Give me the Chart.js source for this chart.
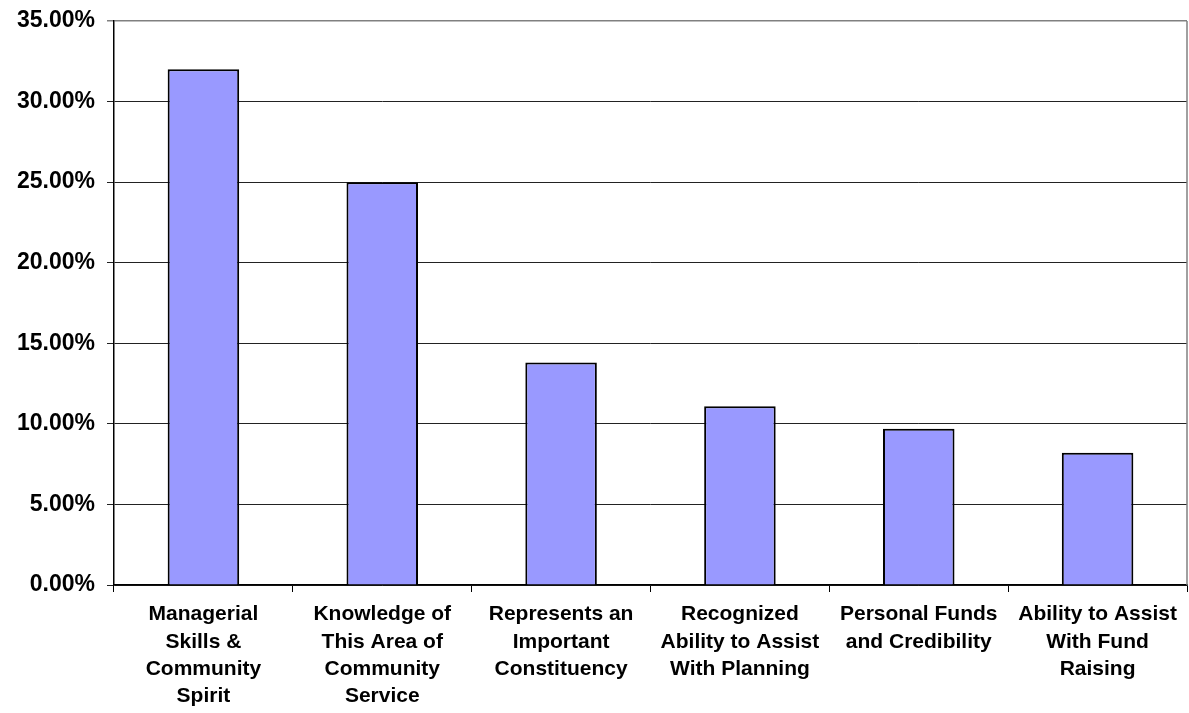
<!DOCTYPE html>
<html>
<head>
<meta charset="utf-8">
<script src="https://cdn.jsdelivr.net/npm/chart.js@4/dist/chart.umd.min.js"></script>
<style>
  html, body { margin: 0; padding: 0; background: #fff; }
  #wrap { width: 1189px; height: 713px; position: relative; }
</style>
</head>
<body>
<div id="wrap"><canvas id="chart"></canvas></div>
<script>
// categories and values
const categorias = [
    ['Managerial', 'Skills &', 'Community', 'Spirit'],
    ['Knowledge of', 'This Area of', 'Community', 'Service'],
    ['Represents an', 'Important', 'Constituency'],
    ['Recognized', 'Ability to Assist', 'With Planning'],
    ['Personal Funds', 'and Credibility'],
    ['Ability to Assist', 'With Fund', 'Raising']
];
const valores = [32.0, 25.0, 13.8, 11.1, 9.7, 8.2];
const yMin = 0, yMax = 35, yStep = 5;

// right border of the plot area
const bordaDireita = {
    id: 'bordaDireita',
    afterDraw(chart) {
        const { ctx, chartArea } = chart;
        ctx.save();
        ctx.strokeStyle = '#808080';
        ctx.lineWidth = 1.5;
        ctx.beginPath();
        ctx.moveTo(chartArea.right, chartArea.top);
        ctx.lineTo(chartArea.right, chartArea.bottom);
        ctx.stroke();
        ctx.restore();
    }
};

new Chart(document.getElementById('chart'), {
    type: 'bar',
    data: {
        labels: categorias,
        datasets: [{
            data: valores,
            backgroundColor: '#9999FF',
            borderColor: '#000000',
            borderWidth: 2,
            categoryPercentage: 1.0,
            barPercentage: 0.4
        }]
    },
    options: {
        responsive: true,
        maintainAspectRatio: false,
        animation: false,
        layout: { padding: { top: 21, right: 2, left: 0, bottom: 0 } },
        plugins: { legend: { display: false }, tooltip: { enabled: false } },
        scales: {
            x: {
                grid: { drawOnChartArea: false, drawTicks: true, tickLength: 7, color: '#000', offset: true },
                border: { color: '#000', width: 1.5 },
                ticks: {
                    color: '#000',
                    maxRotation: 0,
                    autoSkip: false,
                    padding: 9,
                    font: { family: 'Liberation Sans, Arial, sans-serif', size: 21, weight: 'bold', lineHeight: 1.3 }
                },
                afterFit(scale) { scale.height = 128; }
            },
            y: {
                min: yMin,
                max: yMax,
                grid: {
                    color: ctx => ctx.tick && ctx.tick.value === yMax ? '#808080' : '#222',
                    lineWidth: ctx => ctx.tick && ctx.tick.value === yMax ? 1.5 : 1,
                    tickLength: 7
                },
                border: { color: '#000', width: 1.5 },
                ticks: {
                    stepSize: yStep,
                    color: '#000',
                    padding: 12,
                    font: { family: 'Liberation Sans, Arial, sans-serif', size: 23, weight: 'bold' },
                    callback: v => v.toFixed(2) + '%'
                },
                afterFit(scale) {
                    scale.width = 114;
                    scale.paddingTop = 0;
                    scale.paddingBottom = 0;
                }
            }
        }
    },
    plugins: [bordaDireita]
});
</script>
</body>
</html>
